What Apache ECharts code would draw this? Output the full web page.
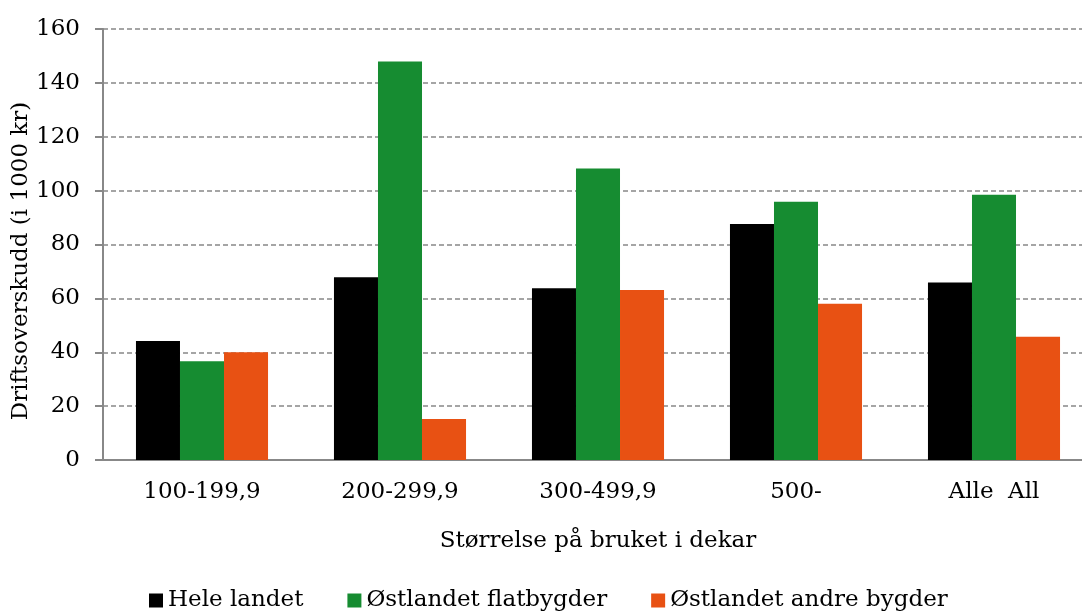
<!DOCTYPE html>
<html>
<head>
<meta charset="utf-8">
<script src="https://cdn.jsdelivr.net/npm/echarts@6/dist/echarts.min.js"></script>
<style>
  html, body { margin: 0; padding: 0; background: #fff; }
  #main { width: 1082px; height: 615px; }
</style>
</head>
<body>
<div id="main"></div>
<script>
// kategorier (størrelse på bruket i dekar)
var categories = ['100-199,9', '200-299,9', '300-499,9', '500-', 'Alle  All'];
// driftsoverskudd i 1000 kr
var heleLandet = [44.2, 67.8, 63.8, 87.6, 65.9];
var ostFlat = [36.7, 147.9, 108.2, 95.9, 98.5];
var ostAndre = [40.0, 15.2, 63.1, 58.0, 45.8];
var yTicks = [0, 20, 40, 60, 80, 100, 120, 140, 160];

var font = 'DejaVu Serif';
var chart = echarts.init(document.getElementById('main'));

chart.setOption({
  animation: false,
  textStyle: { fontFamily: font, color: '#000' },
  legend: {
    bottom: -2,
    left: 144,
    itemWidth: 14,
    itemHeight: 14,
    itemGap: 44,
    icon: 'rect',
    textStyle: { fontFamily: font, fontSize: 23, color: '#000' },
    data: ['Hele landet', 'Østlandet flatbygder', 'Østlandet andre bygder']
  },
  grid: {
    left: 103,
    right: -11,
    top: 29,
    bottom: 155,
    outerBoundsMode: 'none'
  },
  xAxis: {
    type: 'category',
    data: categories,
    name: 'Størrelse på bruket i dekar',
    nameLocation: 'middle',
    nameGap: 70,
    nameMoveOverlap: false,
    nameTextStyle: { fontFamily: font, fontSize: 23, color: '#000' },
    axisLine: { lineStyle: { color: '#888', width: 2 } },
    axisTick: { length: 8, lineStyle: { color: '#888', width: 2 } },
    axisLabel: { margin: 21, fontFamily: font, fontSize: 23, color: '#000' }
  },
  yAxis: {
    type: 'value',
    min: yTicks[0],
    max: yTicks[yTicks.length - 1],
    interval: 20,
    name: 'Driftsoverskudd (i 1000 kr)',
    nameLocation: 'middle',
    nameGap: 70,
    nameMoveOverlap: false,
    nameTextStyle: { fontFamily: font, fontSize: 23, color: '#000', padding: [0, 33, 0, 0] },
    axisLine: { show: true, lineStyle: { color: '#888', width: 2 } },
    axisTick: { show: true, length: 8, lineStyle: { color: '#888', width: 2 } },
    axisLabel: { margin: 23, fontFamily: font, fontSize: 23, color: '#000' },
    splitLine: { lineStyle: { color: '#888', width: 1.5, type: [5, 3] } }
  },
  series: [
    {
      name: 'Hele landet',
      type: 'bar',
      data: heleLandet,
      barGap: '0%',
      barCategoryGap: '33.3%',
      itemStyle: { color: '#000000' }
    },
    {
      name: 'Østlandet flatbygder',
      type: 'bar',
      data: ostFlat,
      itemStyle: { color: '#168c31' }
    },
    {
      name: 'Østlandet andre bygder',
      type: 'bar',
      data: ostAndre,
      itemStyle: { color: '#e85113' }
    }
  ]
});
</script>
</body>
</html>
